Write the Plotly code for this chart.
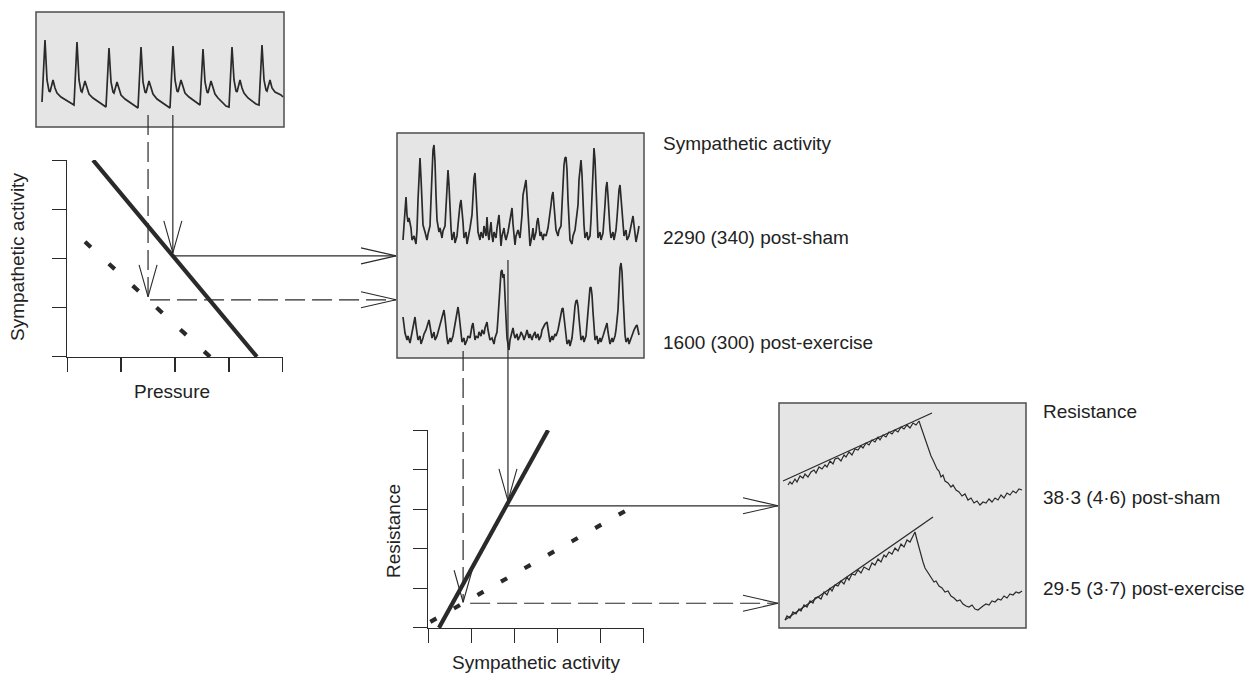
import numpy as np
import plotly.graph_objects as go

W, H = 1252, 677

# ---------------- data ----------------
# arterial pressure recording (top-left panel): time units, amplitude units
abp_t = [6, 9, 11, 13, 14, 17, 19, 21, 25, 31, 36,
         38, 41, 43, 45, 46, 49, 51, 53, 57, 63, 68,
         70, 73, 75, 77, 78, 81, 83, 85, 89, 95, 100,
         102, 105, 107, 109, 110, 113, 115, 117, 121, 127, 132,
         134, 137, 139, 141, 142, 145, 147, 149, 153, 158, 162,
         164, 167, 169, 171, 172, 175, 177, 179, 182, 186, 190,
         193, 196, 198, 200, 201, 204, 206, 208, 212, 216, 220,
         223, 226, 228, 230, 231, 234, 236, 239, 245, 247]
abp_v = [25, 87, 47, 36, 35, 47, 39, 34, 30, 26, 23,
         22, 85, 47, 36, 35, 46, 38, 33, 29, 25, 21,
         20, 79, 45, 35, 34, 45, 37, 32, 28, 24, 20,
         19, 80, 45, 35, 34, 46, 38, 33, 28, 24, 20,
         19, 81, 47, 36, 35, 47, 39, 34, 30, 26, 23,
         22, 78, 45, 35, 34, 46, 38, 33, 29, 25, 21,
         20, 80, 47, 36, 35, 47, 39, 34, 29, 26, 23,
         22, 82, 47, 37, 36, 47, 39, 35, 32, 30]

# sympathetic neurogram, post-sham (time, amplitude)
msna_sham = [(6,118),(7,133),(8,143),(9,161),(10,143),(11,136),(12,140),(14,130),(15,118),(17,122),
 (19,114),(20,128),(21,158),(22,188),(23,200),(24,180),(25,153),(26,133),(28,126),(30,118),
 (31,124),(33,132),(34,158),(35,188),(36,208),(37,213),(38,196),(39,163),(40,138),(42,126),
 (43,130),(45,120),(46,127),(48,132),(49,153),(50,176),(51,188),(52,173),(53,146),(54,130),
 (55,118),(57,126),(58,115),(60,122),(61,133),(62,146),(63,153),(64,158),(65,148),(66,136),
 (67,120),(69,126),(70,114),(72,123),(73,130),(75,143),(76,168),(77,180),(78,185),(79,168),
 (80,143),(81,126),(83,118),(84,126),(86,120),(87,132),(89,122),(90,141),(91,124),(92,118),
 (93,128),(94,136),(95,122),(96,116),(97,126),(99,120),(100,130),(101,136),(102,143),(103,128),
 (104,112),(105,122),(107,130),(108,122),(109,118),(111,126),(112,133),(113,140),(114,146),(115,150),
 (116,134),(117,118),(118,113),(119,122),(121,128),(123,120),(124,130),(125,143),(126,163),(128,174),
 (129,178),(130,162),(131,142),(132,126),(133,112),(135,122),(136,130),(137,118),(139,126),(140,136),
 (141,140),(142,132),(143,122),(144,126),(146,118),(147,124),(149,122),(151,130),(153,143),(154,153),
 (155,162),(156,166),(157,153),(158,138),(159,128),(161,122),(162,128),(164,132),(165,148),(166,173),
 (167,193),(168,200),(169,201),(170,188),(171,158),(172,133),(173,118),(175,114),(176,122),(178,128),
 (179,136),(181,153),(182,178),(183,193),(184,198),(185,183),(186,153),(187,133),(188,120),(190,126),
 (191,118),(193,122),(194,138),(195,168),(196,198),(197,210),(198,198),(199,168),(200,136),(201,120),
 (203,126),(204,118),(206,125),(207,136),(208,153),(209,170),(210,176),(211,162),(212,143),(213,128),
 (214,120),(216,126),(217,118),(219,128),(220,140),(221,158),(222,168),(223,173),(224,160),(225,143),
 (226,130),(227,122),(229,128),(230,118),(232,122),(233,128),(235,138),(236,142),(237,133),(238,120),
 (239,116),(241,126),(242,132)]

# sympathetic neurogram, post-exercise (time, amplitude)
msna_exercise = [(6,41),(7,33),(8,25),(10,18),(11,22),(13,15),(14,20),(16,28),(17,36),(18,41),
 (19,32),(20,23),(21,18),(23,22),(24,14),(26,20),(27,24),(29,28),(30,32),(31,36),
 (32,38),(33,32),(34,24),(35,20),(37,26),(38,18),(40,22),(41,26),(43,32),(45,40),
 (46,46),(47,48),(48,40),(49,28),(50,20),(51,14),(53,20),(54,16),(56,22),(57,28),
 (59,40),(60,48),(61,51),(62,44),(63,32),(64,22),(65,16),(67,20),(68,13),(70,18),
 (71,22),(73,20),(74,28),(75,32),(76,35),(77,26),(78,18),(79,22),(81,20),(82,26),
 (84,22),(85,28),(87,24),(88,30),(89,33),(90,36),(91,28),(92,22),(93,18),(95,20),
 (97,14),(98,20),(100,26),(101,40),(102,58),(103,76),(104,86),(105,88),(106,80),(107,84),
 (108,68),(109,40),(110,20),(111,13),(112,8),(113,18),(114,22),(115,28),(116,30),(117,24),
 (118,20),(120,24),(121,18),(123,22),(124,26),(126,22),(127,18),(129,24),(130,28),(132,20),
 (133,24),(135,18),(136,22),(138,26),(139,20),(141,24),(142,18),(144,22),(145,28),(147,32),
 (148,34),(150,36),(151,28),(152,20),(153,16),(155,22),(156,18),(158,24),(159,22),(161,28),
 (163,38),(164,46),(165,49),(166,50),(167,42),(168,30),(169,20),(170,14),(172,18),(173,12),
 (175,20),(176,28),(177,40),(178,52),(179,57),(180,58),(181,52),(182,40),(183,26),(184,18),
 (186,22),(187,16),(189,22),(190,33),(191,50),(192,63),(193,70),(194,71),(195,63),(196,46),
 (197,28),(198,18),(200,22),(201,14),(203,20),(204,16),(206,22),(207,26),(209,32),(210,35),
 (211,26),(212,18),(213,14),(215,20),(216,16),(218,22),(219,28),(221,48),(222,73),(223,90),
 (224,95),(225,86),(226,63),(227,38),(228,23),(229,16),(231,20),(232,14),(234,20),(235,24),
 (237,28),(239,32),(240,33),(241,28),(242,23)]

# resistance recordings (time, amplitude) with fitted rise lines
res_sham = [(9,143),(11,146),(13,144),(16,149),(18,146),(21,152),(24,150),(26,154),(29,151),(32,156),
 (35,158),(37,155),(40,161),(43,159),(46,163),(48,161),(51,167),(54,164),(56,169),(59,170),
 (62,167),(65,173),(67,171),(70,176),(73,173),(76,179),(79,178),(82,182),(84,180),(87,185),
 (90,183),(93,188),(96,186),(99,191),(101,188),(104,193),(107,191),(110,196),(113,194),(116,198),
 (119,196),(122,201),(125,199),(128,203),(131,200),(134,205),(137,203),(140,207),(142,201),(144,195),
 (146,188),(148,182),(150,177),(152,172),(154,168),(156,164),(158,159),(160,157),(162,151),(164,153),
 (166,147),(169,145),(172,141),(174,143),(177,138),(180,136),(183,132),(186,134),(189,128),(192,130),
 (195,125),(198,127),(201,123),(204,126),(207,125),(210,129),(213,126),(216,130),(219,128),(222,133),
 (225,130),(228,135),(231,133),(234,137),(237,135),(240,139),(243,138)]
res_sham_fit_t = [4, 153]
res_sham_fit_v = [147, 215]

res_exercise = [(6,8),(8,12),(11,10),(14,16),(17,14),(20,19),(22,17),(25,23),(28,21),(31,27),
 (34,25),(36,30),(39,31),(42,29),(45,36),(48,33),(51,40),(53,37),(56,43),(59,42),
 (62,47),(65,44),(68,51),(70,48),(73,54),(76,53),(79,58),(82,55),(85,61),(87,60),
 (90,58),(93,65),(96,63),(99,69),(102,66),(105,73),(107,71),(110,76),(113,74),(116,80),
 (119,77),(122,84),(125,81),(128,88),(131,86),(134,92),(136,96),(138,88),(140,80),(142,72),
 (144,66),(146,60),(148,57),(150,53),(152,50),(155,46),(157,47),(160,42),(163,40),(166,36),
 (169,37),(172,32),(175,30),(178,27),(181,28),(184,24),(187,22),(190,21),(193,23),(196,19),
 (199,18),(201,20),(204,22),(207,24),(210,23),(213,27),(216,26),(219,29),(222,28),(225,32),
 (228,30),(231,34),(234,33),(237,36),(240,35),(243,37)]
res_exercise_fit_t = [6, 154]
res_exercise_fit_v = [8, 111]

# schematic relationships (arbitrary units)
baro_sham_pressure = [0.48, 3.52]
baro_sham_msna = [4.0, 0.0]
baro_ex_pressure = [0.33, 2.65]
baro_ex_msna = [2.34, 0.0]
trans_sham_msna = [0.25, 2.78]
trans_sham_res = [0.0, 5.0]
trans_ex_msna = [0.05, 4.56]
trans_ex_res = [0.15, 2.95]
op_pressure_sham, op_pressure_ex = 1.96, 1.50
op_msna_sham, op_msna_ex = 1.85, 0.81
g1_ticks = [0, 1, 2, 3, 4]
g2_ticks = [0, 1, 2, 3, 4, 5]

label_msna = ["Sympathetic activity", "2290 (340) post-sham", "1600 (300) post-exercise"]
label_res = ["Resistance", "38·3 (4·6) post-sham", "29·5 (3·7) post-exercise"]

# ---------------- layout frames (pixels: left, right, top, bottom) ----------------
BOX1 = (36, 284, 12, 127)
BOX2 = (397, 644, 133, 358)
BOX3 = (779, 1026, 403, 628)
GR1 = (67, 283, 160, 357)
GR2 = (428, 644, 430, 628)
EPS = 0.004
G1R = [-EPS, 4 + EPS]
G2R = [-EPS, 5 + EPS]

INK = "#2a2a2a"
FONT = "Liberation Sans, Arial, Helvetica, sans-serif"


def dom(fr):
    l, r, t, b = fr
    return [l / W, r / W], [1 - b / H, 1 - t / H]


def to_px(fr, rng_x, rng_y, x, y):
    l, r, t, b = fr
    px = l + (x - rng_x[0]) / (rng_x[1] - rng_x[0]) * (r - l)
    py = b - (y - rng_y[0]) / (rng_y[1] - rng_y[0]) * (b - t)
    return px, py


def dotted(fr, rng, xs, ys, dash_len, n_dashes):
    """dash pattern so the dotted line starts and ends with a dash"""
    a = to_px(fr, rng, rng, xs[0], ys[0])
    b = to_px(fr, rng, rng, xs[1], ys[1])
    length = float(np.hypot(b[0] - a[0], b[1] - a[1]))
    period = (length - dash_len) / (n_dashes - 1)
    return "%.2fpx,%.2fpx" % (dash_len, period - dash_len)


fig = go.Figure()


def add(x, y, ax, color=INK, width=1.3, dash=None):
    fig.add_trace(go.Scatter(x=list(x), y=list(y), xaxis="x" + ax, yaxis="y" + ax,
                             mode="lines", line=dict(color=color, width=width, dash=dash),
                             hoverinfo="skip", showlegend=False))


# ---- connectors on a full-figure canvas (axis 'x'/'y', pixel units) ----
def seg(xs, ys, dash=None, width=1.2):
    fig.add_trace(go.Scatter(x=xs, y=ys, xaxis="x", yaxis="y", mode="lines",
                             line=dict(color=INK, width=width, dash=dash),
                             hoverinfo="skip", showlegend=False))


def head_down(x, y):
    seg([x - 9, x, x + 9], [y - 32, y, y - 32], width=1.1)


def head_right(x, y):
    seg([x - 35, x, x - 35], [y - 8, y, y + 8], width=1.1)


DASH = "20px,7px"
# graph 1 operating points
s_sham = float(np.interp(op_pressure_sham, baro_sham_pressure, baro_sham_msna))
s_ex = float(np.interp(op_pressure_ex, baro_ex_pressure, baro_ex_msna))
p1s = to_px(GR1, G1R, G1R, op_pressure_sham, s_sham)
p1e = to_px(GR1, G1R, G1R, op_pressure_ex, s_ex)
y_from_box1 = BOX1[3] - 12
seg([p1s[0], p1s[0]], [y_from_box1, p1s[1] - 3])
head_down(p1s[0], p1s[1] - 3)
seg([p1s[0], BOX2[0] - 1], [p1s[1], p1s[1]])
head_right(BOX2[0] - 1, p1s[1])
seg([p1e[0], p1e[0]], [y_from_box1, p1e[1] - 3], dash=DASH)
head_down(p1e[0], p1e[1] - 3)
seg([p1e[0] + 2, BOX2[0] - 1], [p1e[1], p1e[1]], dash=DASH)
head_right(BOX2[0] - 1, p1e[1])

# graph 2 operating points
r_sham = float(np.interp(op_msna_sham, trans_sham_msna, trans_sham_res))
r_ex = float(np.interp(op_msna_ex, trans_ex_msna, trans_ex_res))
p2s = to_px(GR2, G2R, G2R, op_msna_sham, r_sham)
p2e = to_px(GR2, G2R, G2R, op_msna_ex, r_ex)
seg([p2s[0], p2s[0]], [BOX2[2] + 127, p2s[1] - 2])
head_down(p2s[0], p2s[1] - 2)
seg([p2s[0], BOX3[0] - 1], [p2s[1] + 3, p2s[1] + 3])
head_right(BOX3[0] - 1, p2s[1] + 3)
seg([p2e[0], p2e[0]], [BOX2[3] - 7, p2e[1] - 1], dash=DASH)
head_down(p2e[0], p2e[1] - 1)
seg([p2e[0] + 7, BOX3[0] - 1], [p2e[1], p2e[1]], dash=DASH)
head_right(BOX3[0] - 1, p2e[1])

# ---- recordings ----
add(abp_t, abp_v, "2", width=1.7)
t, v = zip(*msna_sham)
add(t, v, "4", width=1.7)
t, v = zip(*msna_exercise)
add(t, v, "4", width=1.7)
t, v = zip(*res_sham)
add(t, v, "6", width=1.2)
add(res_sham_fit_t, res_sham_fit_v, "6", width=1.3)
t, v = zip(*res_exercise)
add(t, v, "6", width=1.2)
add(res_exercise_fit_t, res_exercise_fit_v, "6", width=1.3)

# ---- schematic graphs ----
add(baro_sham_pressure, baro_sham_msna, "3", width=4.2)
add(baro_ex_pressure, baro_ex_msna, "3", width=4.2,
    dash=dotted(GR1, G1R, baro_ex_pressure, baro_ex_msna, 8, 6))
add(trans_sham_msna, trans_sham_res, "5", width=4.2)
add(trans_ex_msna, trans_ex_res, "5", width=4.2,
    dash=dotted(GR2, G2R, trans_ex_msna, trans_ex_res, 7, 9))

# ---------------- axes ----------------
hidden = dict(visible=False, showgrid=False, zeroline=False, fixedrange=True)
graph_ax = dict(showline=True, linecolor=INK, linewidth=1.3, ticks="outside", ticklen=14,
                tickwidth=1.3, tickcolor=INK, showticklabels=False, showgrid=False,
                zeroline=False, fixedrange=True, tickmode="array")

b1x, b1y = dom(BOX1)
b2x, b2y = dom(BOX2)
b3x, b3y = dom(BOX3)
g1x, g1y = dom(GR1)
g2x, g2y = dom(GR2)

fig.update_layout(
    width=W, height=H, autosize=False,
    margin=dict(l=0, r=0, t=0, b=0),
    paper_bgcolor="white", plot_bgcolor="rgba(0,0,0,0)",
    font=dict(family=FONT, size=19, color="#222222"),
    showlegend=False,
    xaxis=dict(domain=[0, 1], range=[0, W], anchor="y", **hidden),
    yaxis=dict(domain=[0, 1], range=[H, 0], anchor="x", **hidden),
    xaxis2=dict(domain=b1x, range=[0, 248], anchor="y2", **hidden),
    yaxis2=dict(domain=b1y, range=[0, 115], anchor="x2", **hidden),
    xaxis3=dict(domain=g1x, range=G1R, anchor="y3", tickvals=g1_ticks, **graph_ax),
    yaxis3=dict(domain=g1y, range=G1R, anchor="x3", tickvals=g1_ticks, **graph_ax),
    xaxis4=dict(domain=b2x, range=[0, 247], anchor="y4", **hidden),
    yaxis4=dict(domain=b2y, range=[0, 225], anchor="x4", **hidden),
    xaxis5=dict(domain=g2x, range=G2R, anchor="y5", tickvals=g2_ticks, **graph_ax),
    yaxis5=dict(domain=g2y, range=G2R, anchor="x5", tickvals=g2_ticks, **graph_ax),
    xaxis6=dict(domain=b3x, range=[0, 247], anchor="y6", **hidden),
    yaxis6=dict(domain=b3y, range=[0, 225], anchor="x6", **hidden),
)

# recording panels (stippled grey boxes)
for ax in ["2", "4", "6"]:
    fig.add_shape(type="rect", xref="x" + ax + " domain", yref="y" + ax + " domain",
                  x0=0, x1=1, y0=0, y1=1, fillcolor="#e5e5e5",
                  line=dict(color="#4d4d4d", width=1.5), layer="below")


def text(px, py, s, anchor="center", angle=0):
    fig.add_annotation(x=px / W, y=1 - py / H, xref="paper", yref="paper", text=s,
                       showarrow=False, xanchor=anchor, yanchor="middle", textangle=angle,
                       font=dict(family=FONT, size=19, color="#222222"))


text(172, 391, "Pressure")
text(17, 257, "Sympathetic activity", angle=-90)
text(393, 531, "Resistance", angle=-90)
text(536, 662, "Sympathetic activity")
for s, py in zip(label_msna, [143, 237, 342]):
    text(661, py, s, anchor="left")
for s, py in zip(label_res, [411, 497, 588]):
    text(1041, py, s, anchor="left")

fig.write_html("out.html", config={"displayModeBar": False, "staticPlot": True})
